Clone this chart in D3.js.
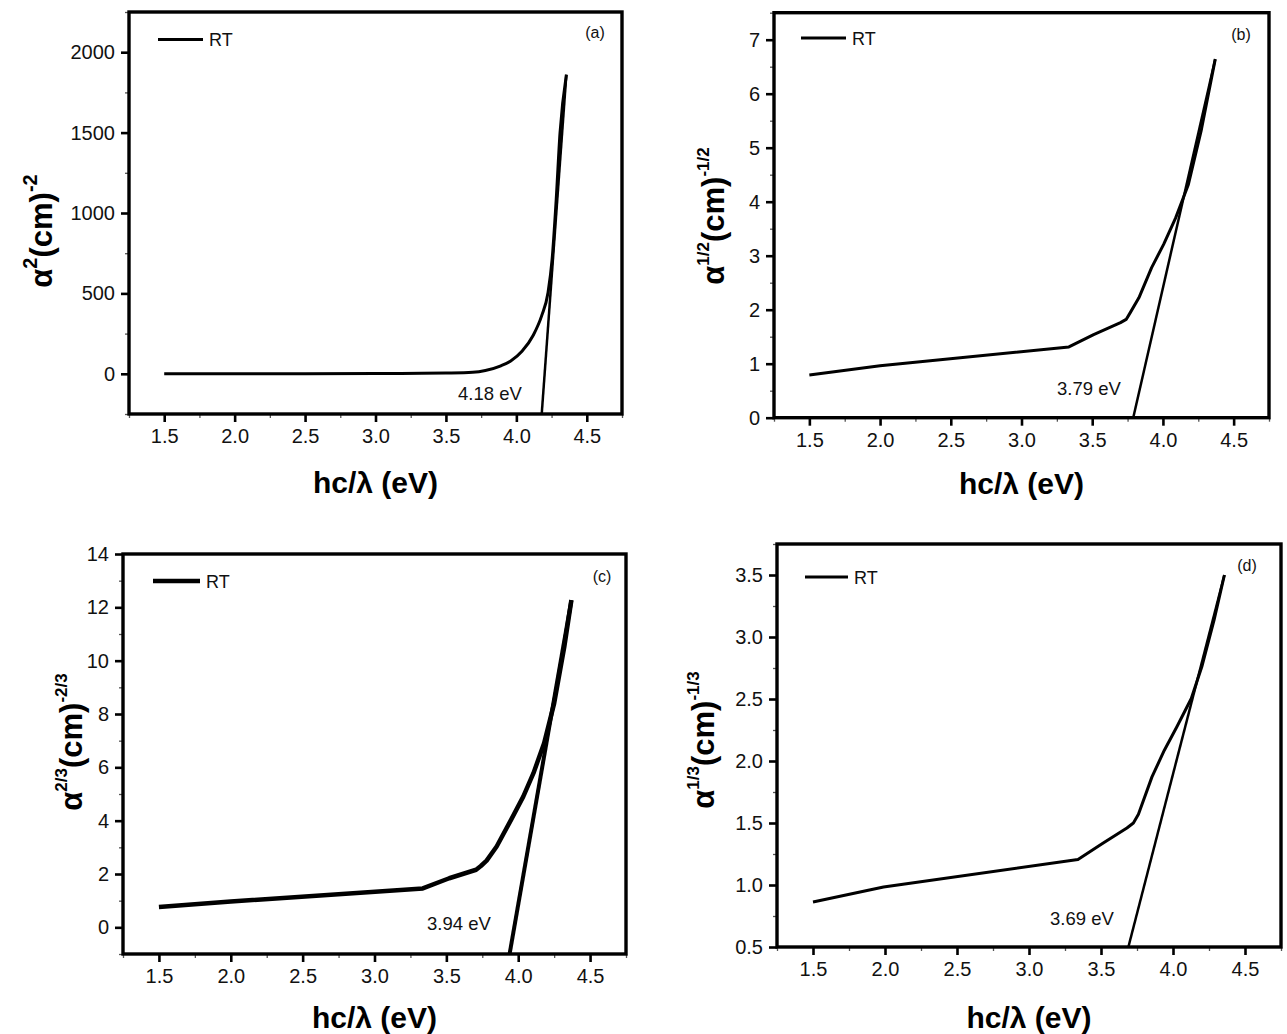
<!DOCTYPE html>
<html>
<head>
<meta charset="utf-8">
<script src="https://cdn.jsdelivr.net/npm/d3@7"></script>
<style>
  html, body { margin: 0; padding: 0; background: #fff; }
  svg { display: block; font-family: "Liberation Sans", Arial, sans-serif; }
</style>
</head>
<body>
<svg id="fig" width="1287" height="1034"></svg>
<script>
// Photon energy hc/λ (eV) and transformed absorption for the RT sample

// (a) α² vs energy
const energyA = [1.5, 2.0, 2.5, 3.0, 3.33, 3.5, 3.69, 3.78, 3.89, 3.96, 4.04, 4.12, 4.18, 4.225, 4.254, 4.283, 4.31, 4.355];
const valueA  = [0, 1, 1, 2, 3, 5, 10, 21, 50, 80, 140, 240, 362, 506, 713, 1085, 1498, 1860];

// (b) α^(1/2) vs energy
const energyB = [1.5, 2.0, 3.335, 3.51, 3.70, 3.74, 3.77, 3.83, 3.92, 4.005, 4.09, 4.18, 4.27, 4.37];
const valueB  = [0.79, 0.96, 1.31, 1.54, 1.76, 1.82, 1.95, 2.22, 2.78, 3.21, 3.70, 4.32, 5.31, 6.64];

// (c) α^(2/3) vs energy
const energyC = [1.5, 2.0, 3.336, 3.52, 3.707, 3.74, 3.78, 3.85, 3.95, 4.035, 4.106, 4.18, 4.25, 4.32, 4.37];
const valueC  = [0.76, 0.97, 1.46, 1.84, 2.16, 2.30, 2.50, 3.03, 4.03, 4.90, 5.78, 6.90, 8.40, 10.5, 12.27];

// (d) α^(1/3) vs energy
const energyD = [1.5, 1.99, 3.34, 3.51, 3.68, 3.725, 3.76, 3.854, 3.94, 4.027, 4.127, 4.20, 4.285, 4.357];
const valueD  = [0.863, 0.984, 1.205, 1.334, 1.46, 1.50, 1.57, 1.872, 2.087, 2.276, 2.504, 2.76, 3.136, 3.5];

// Extrapolated band-gap energies (eV), where each fit line meets the energy axis
const bandGaps = [4.18, 3.79, 3.94, 3.69];

// Tick values
const xTicks = [1.5, 2.0, 2.5, 3.0, 3.5, 4.0, 4.5];
const xMinorTicks = [1.25, 1.75, 2.25, 2.75, 3.25, 3.75, 4.25, 4.75];
const yTicksA = [0, 500, 1000, 1500, 2000];
const yTicksB = [0, 1, 2, 3, 4, 5, 6, 7];
const yTicksC = [0, 2, 4, 6, 8, 10, 12, 14];
const yTicksD = [0.5, 1.0, 1.5, 2.0, 2.5, 3.0, 3.5];

const panelTags = ["(a)", "(b)", "(c)", "(d)"];
const legendName = "RT";
const xTitle = "hc/\u03bb (eV)";
const yTitleSup = [["2", "-2"], ["1/2", "-1/2"], ["2/3", "-2/3"], ["1/3", "-1/3"]];

const svg = d3.select("#fig");

const panels = [
  {
    box: {l: 129, r: 622, t: 12, b: 414},
    xDom: [1.25, 4.75], yDom: [-250, 2250],
    yTicks: yTicksA, yMinor: d3.range(-250, 2251, 250).filter(v => v % 500 !== 0), yFmt: d3.format("d"),
    xs: energyA, ys: valueA, smooth: true,
    curveW: 3, fitW: 2.5,
    tag: panelTags[0], tagPos: [595, 38],
    gapPos: [458, 400],
    legend: {x1: 158, x2: 203, y: 39.5, w: 3},
    yTitle: {x: 52, y: 231, sup: yTitleSup[0], supSize: 20},
    xTitleY: 493
  },
  {
    box: {l: 774, r: 1269, t: 12.7, b: 417.7},
    xDom: [1.25, 4.75], yDom: [0, 7.5],
    yTicks: yTicksB, yMinor: d3.range(0.5, 7.51, 1), yFmt: d3.format("d"),
    xs: energyB, ys: valueB, smooth: false,
    curveW: 3, fitW: 2.5,
    tag: panelTags[1], tagPos: [1241, 40],
    gapPos: [1057, 395],
    legend: {x1: 801, x2: 846, y: 38, w: 3},
    yTitle: {x: 724, y: 216, sup: yTitleSup[1], supSize: 17},
    xTitleY: 494
  },
  {
    box: {l: 123, r: 626, t: 554, b: 954},
    xDom: [1.25, 4.75], yDom: [-1, 14],
    yTicks: yTicksC, yMinor: d3.range(-1, 14.1, 2), yFmt: d3.format("d"),
    xs: energyC, ys: valueC, smooth: false,
    curveW: 4.5, fitW: 4,
    tag: panelTags[2], tagPos: [602, 582],
    gapPos: [427, 930],
    legend: {x1: 153, x2: 200, y: 581, w: 4.5},
    yTitle: {x: 82, y: 742, sup: yTitleSup[2], supSize: 17},
    xTitleY: 1028
  },
  {
    box: {l: 777, r: 1281, t: 544, b: 947},
    xDom: [1.25, 4.75], yDom: [0.5, 3.75],
    yTicks: yTicksD, yMinor: d3.range(0.75, 3.76, 0.5), yFmt: d3.format(".1f"),
    xs: energyD, ys: valueD, smooth: false,
    curveW: 3, fitW: 2.5,
    tag: panelTags[3], tagPos: [1247, 571],
    gapPos: [1050, 925],
    legend: {x1: 805, x2: 848, y: 577, w: 3},
    yTitle: {x: 714, y: 740, sup: yTitleSup[3], supSize: 17},
    xTitleY: 1028
  }
];

panels.forEach((p, i) => {
  const {l, r, t, b} = p.box;
  const x = d3.scaleLinear().domain(p.xDom).range([l, r]);
  const y = d3.scaleLinear().domain(p.yDom).range([b, t]);
  const g = svg.append("g");

  // minor ticks
  g.append("g").attr("transform", `translate(0,${b})`)
    .call(d3.axisBottom(x).tickValues(xMinorTicks).tickSize(4).tickFormat(""))
    .call(s => s.select(".domain").remove())
    .call(s => s.selectAll("line").attr("stroke", "#555").attr("stroke-width", 1.3));
  g.append("g").attr("transform", `translate(${l},0)`)
    .call(d3.axisLeft(y).tickValues(p.yMinor).tickSize(4).tickFormat(""))
    .call(s => s.select(".domain").remove())
    .call(s => s.selectAll("line").attr("stroke", "#555").attr("stroke-width", 1.3));

  // major ticks and labels
  const gx = g.append("g").attr("transform", `translate(0,${b})`)
    .call(d3.axisBottom(x).tickValues(xTicks).tickSize(8).tickPadding(7).tickFormat(d3.format(".1f")));
  const gy = g.append("g").attr("transform", `translate(${l},0)`)
    .call(d3.axisLeft(y).tickValues(p.yTicks).tickSize(8).tickPadding(6).tickFormat(p.yFmt));
  [gx, gy].forEach(a => {
    a.select(".domain").remove();
    a.selectAll("line").attr("stroke", "#000").attr("stroke-width", 2.6);
    a.selectAll("text").attr("fill", "#111").attr("font-size", 20)
      .attr("font-family", "'Liberation Sans', Arial, sans-serif");
  });

  // clip region for the plotted lines
  const clipId = "clip" + i;
  svg.append("clipPath").attr("id", clipId)
    .append("rect").attr("x", l).attr("y", t).attr("width", r - l).attr("height", b - t);

  const pts = p.xs.map((v, k) => [v, p.ys[k]]);
  const line = d3.line().x(d => x(d[0])).y(d => y(d[1]))
    .curve(p.smooth ? d3.curveMonotoneX : d3.curveLinear);

  const plot = g.append("g").attr("clip-path", `url(#${clipId})`);
  plot.append("path").datum(pts).attr("d", line)
    .attr("fill", "none").attr("stroke", "#000")
    .attr("stroke-width", p.curveW).attr("stroke-linejoin", "round");

  // linear fit extrapolated down to the energy axis
  const top = pts[pts.length - 1];
  const fit = [[bandGaps[i], p.yDom[0]], top];
  plot.append("path").datum(fit).attr("d", d3.line().x(d => x(d[0])).y(d => y(d[1])))
    .attr("fill", "none").attr("stroke", "#000").attr("stroke-width", p.fitW);

  // frame
  g.append("rect").attr("x", l).attr("y", t).attr("width", r - l).attr("height", b - t)
    .attr("fill", "none").attr("stroke", "#000").attr("stroke-width", 3.4);

  // legend
  g.append("line").attr("x1", p.legend.x1).attr("x2", p.legend.x2)
    .attr("y1", p.legend.y).attr("y2", p.legend.y)
    .attr("stroke", "#000").attr("stroke-width", p.legend.w);
  g.append("text").attr("x", p.legend.x2 + 6).attr("y", p.legend.y + 6.5)
    .attr("font-size", 18).attr("fill", "#111").text(legendName);

  // panel tag
  g.append("text").attr("x", p.tagPos[0]).attr("y", p.tagPos[1])
    .attr("text-anchor", "middle").attr("font-size", 16).attr("fill", "#111").text(p.tag);

  // band gap value
  g.append("text").attr("x", p.gapPos[0]).attr("y", p.gapPos[1])
    .attr("font-size", 18.5).attr("fill", "#111").text(bandGaps[i].toFixed(2) + " eV");

  // x title
  g.append("text").attr("x", (l + r) / 2).attr("y", p.xTitleY)
    .attr("text-anchor", "middle").attr("font-size", 30).attr("font-weight", "bold")
    .attr("fill", "#000").text(xTitle);

  // y title with exponents
  const yt = g.append("text")
    .attr("transform", `translate(${p.yTitle.x},${p.yTitle.y}) rotate(-90)`)
    .attr("text-anchor", "middle").attr("font-size", 31).attr("font-weight", "bold").attr("fill", "#000");
  const raise = 15;
  yt.append("tspan").text("\u03b1");
  yt.append("tspan").attr("font-size", p.yTitle.supSize).attr("dy", -raise).text(p.yTitle.sup[0]);
  yt.append("tspan").attr("dy", raise).text("(cm)");
  yt.append("tspan").attr("font-size", p.yTitle.supSize).attr("dy", -raise).text(p.yTitle.sup[1]);
});
</script>
</body>
</html>
